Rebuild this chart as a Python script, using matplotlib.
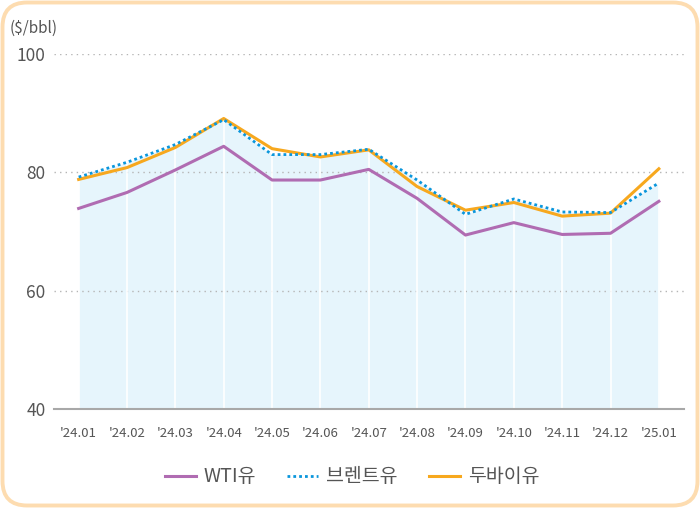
import matplotlib
matplotlib.use("Agg")
import matplotlib.pyplot as plt
from matplotlib.patches import FancyBboxPatch
import numpy as np

plt.rcParams['font.family'] = ['Noto Sans CJK KR', 'DejaVu Sans']

months = ["'24.01", "'24.02", "'24.03", "'24.04", "'24.05", "'24.06", "'24.07",
          "'24.08", "'24.09", "'24.10", "'24.11", "'24.12", "'25.01"]
wti = [73.9, 76.6, 80.4, 84.4, 78.7, 78.7, 80.5, 75.6, 69.4, 71.5, 69.5, 69.7, 75.1]
brent = [79.2, 81.7, 84.7, 88.9, 83.0, 83.0, 83.9, 78.7, 72.9, 75.5, 73.3, 73.2, 78.2]
dubai = [78.8, 80.8, 84.2, 89.1, 84.0, 82.6, 83.8, 77.6, 73.6, 74.9, 72.6, 73.1, 80.6]
yticks = [40, 60, 80, 100]

fig = plt.figure(figsize=(7.0, 5.08), dpi=100)
W, H = 700, 508

# rounded border
border = FancyBboxPatch((2.5 / W, 2.5 / H), (W - 5) / W, (H - 5) / H,
                        boxstyle="round,pad=0,rounding_size=0.035",
                        transform=fig.transFigure, facecolor='none',
                        edgecolor='#fddcb0', linewidth=2.8, zorder=10,
                        mutation_aspect=W / H)
fig.patches.append(border)

ax = fig.add_axes([54 / W, (H - 409) / H, (684 - 54) / W, (409 - 54) / H])
ax.set_facecolor('none')
x = np.arange(len(months))

ax.fill_between(x, 40, brent, color='#e6f5fc', zorder=1, linewidth=0)
ax.vlines(x, 40, brent, colors='white', linewidth=1.2, zorder=2)

for yv in [60, 80, 100]:
    ax.axhline(yv, color='#b5b5b5', linestyle=(0, (1, 3)), linewidth=1, zorder=1.5)

l_wti, = ax.plot(x, wti, color='#b06cb2', linewidth=2.2, zorder=4, label='WTI유')
l_brent, = ax.plot(x, brent, color='#0a96dc', linewidth=2.0, linestyle=(0, (1, 1.1)),
                   zorder=5, label='브렌트유')
l_dubai, = ax.plot(x, dubai, color='#f7a81e', linewidth=2.2, zorder=4.5, label='두바이유')

ax.set_xlim(-0.51, 12.52)
ax.set_ylim(40, 100)
ax.set_xticks(x)
ax.set_xticklabels(months, fontsize=9.5, color='#555555')
ax.set_yticks(yticks)
ax.set_yticklabels([str(v) for v in yticks], fontsize=12.5, color='#555555')
ax.tick_params(axis='both', length=0)
ax.tick_params(axis='x', pad=13)
ax.tick_params(axis='y', pad=6)
for s in ['left', 'right', 'top']:
    ax.spines[s].set_visible(False)
ax.spines['bottom'].set_color('#a8a8a8')
ax.spines['bottom'].set_linewidth(1.5)
ax.spines['bottom'].set_zorder(6)

fig.text(10 / W, 1 - 28 / H, '($/bbl)', fontsize=11, color='#555555',
         ha='left', va='center')

leg = fig.legend([l_wti, l_brent, l_dubai], ['WTI유', '브렌트유', '두바이유'], loc='center',
                 bbox_to_anchor=(352 / W, 1 - 477 / H), ncol=3, frameon=False,
                 fontsize=14, handlelength=1.6, columnspacing=1.6,
                 handletextpad=0.4, labelcolor='#555555')

fig.savefig('out.png', dpi=100)
